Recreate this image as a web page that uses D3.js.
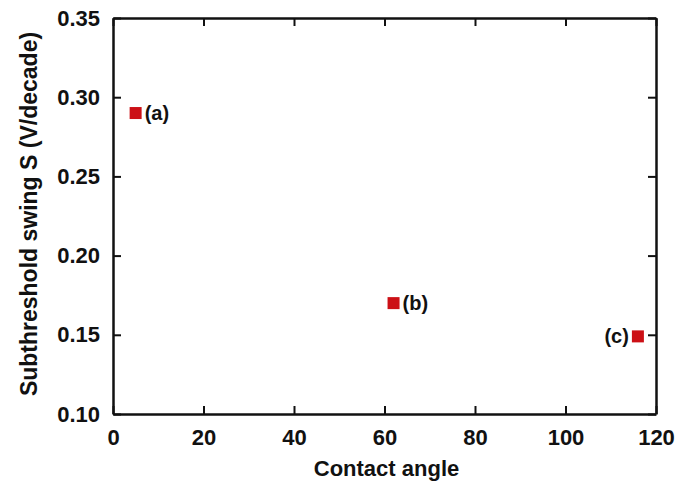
<!DOCTYPE html>
<html>
<head>
<meta charset="utf-8">
<script src="https://cdn.jsdelivr.net/npm/d3@7"></script>
<style>
  body { margin: 0; background: #fff; }
  text { font-family: "Liberation Sans", Arial, sans-serif; font-weight: bold; }
</style>
</head>
<body>
<div id="chart"></div>
<script>
// data
var labels = ["(a)", "(b)", "(c)"];
var angles = [5, 62, 116];
var swings = [0.29, 0.17, 0.149];
var xTicks = [0, 20, 40, 60, 80, 100, 120];
var yTicks = [0.10, 0.15, 0.20, 0.25, 0.30, 0.35];

var svgWidth = 675;
var svgHeight = 486;
var margin = { top: 18, right: 19, bottom: 72, left: 113 };
var width = svgWidth - margin.left - margin.right;
var height = svgHeight - margin.top - margin.bottom;

var svg = d3.select("#chart")
  .append("svg")
  .attr("width", svgWidth)
  .attr("height", svgHeight);

var chartGroup = svg.append("g")
  .attr("transform", `translate(${margin.left}, ${margin.top})`);

var x = d3.scaleLinear().domain([0, 120]).range([0, width]);
var y = d3.scaleLinear().domain([0.10, 0.35]).range([height, 0]);

// axes, ticks pointing inward
var bottomAxis = d3.axisBottom(x).tickValues(xTicks).tickSizeInner(-8).tickSizeOuter(0).tickPadding(15);
var leftAxis = d3.axisLeft(y).tickValues(yTicks).tickFormat(d3.format(".2f")).tickSizeInner(-8).tickSizeOuter(0).tickPadding(13);
var topAxis = d3.axisTop(x).tickValues(xTicks).tickSizeInner(-8).tickSizeOuter(0).tickFormat("");
var rightAxis = d3.axisRight(y).tickValues(yTicks).tickSizeInner(-8).tickSizeOuter(0).tickFormat("");

var gx = chartGroup.append("g").attr("transform", `translate(0, ${height})`).call(bottomAxis);
var gy = chartGroup.append("g").call(leftAxis);
var gt = chartGroup.append("g").call(topAxis);
var gr = chartGroup.append("g").attr("transform", `translate(${width}, 0)`).call(rightAxis);

[gx, gy, gt, gr].forEach(function(g) {
  g.select(".domain").attr("stroke", "#111").attr("stroke-width", 2.5);
  g.selectAll(".tick line").attr("stroke", "#111").attr("stroke-width", 2);
  g.selectAll(".tick text")
    .attr("fill", "#111")
    .style("font-size", "22px")
    .style("font-family", "'Liberation Sans', Arial, sans-serif")
    .style("font-weight", "bold");
});

// markers
var size = 12;
chartGroup.selectAll("rect.pt")
  .data(angles)
  .enter()
  .append("rect")
  .attr("class", "pt")
  .attr("x", d => x(d) - size / 2)
  .attr("y", (d, i) => y(swings[i]) - size / 2)
  .attr("width", size)
  .attr("height", size)
  .attr("fill", "#cc1016");

// point labels, (c) sits left of its marker
chartGroup.selectAll("text.lbl")
  .data(labels)
  .enter()
  .append("text")
  .attr("class", "lbl")
  .attr("x", (d, i) => i === 2 ? x(angles[i]) - 9 : x(angles[i]) + 9)
  .attr("y", (d, i) => y(swings[i]) + 7)
  .attr("text-anchor", (d, i) => i === 2 ? "end" : "start")
  .style("font-size", "20px")
  .attr("fill", "#111")
  .text(d => d);

// axis titles
svg.append("text")
  .attr("x", margin.left + width / 2 + 2)
  .attr("y", 476)
  .attr("text-anchor", "middle")
  .style("font-size", "22px")
  .attr("fill", "#111")
  .text("Contact angle");

svg.append("text")
  .attr("transform", `translate(37, ${margin.top + height / 2 - 2}) rotate(-90)`)
  .attr("text-anchor", "middle")
  .style("font-size", "23px")
  .attr("fill", "#111")
  .text("Subthreshold swing S (V/decade)");
</script>
</body>
</html>
